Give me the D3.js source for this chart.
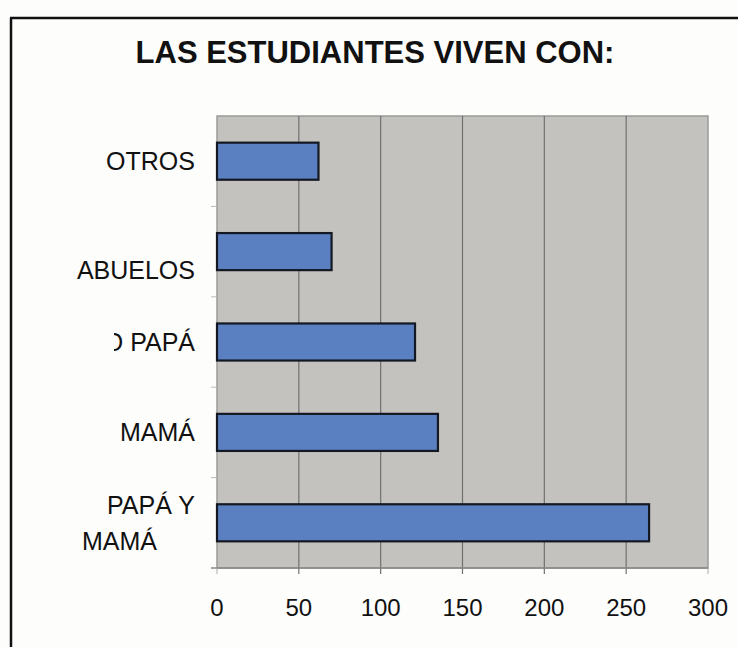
<!DOCTYPE html>
<html>
<head>
<meta charset="utf-8">
<script src="https://cdn.jsdelivr.net/npm/d3@7"></script>
<style>
  body { margin: 0; background: #fdfdfc; }
  svg { display: block; font-family: "Liberation Sans", Arial, sans-serif; }
</style>
</head>
<body>
<svg id="chart" width="738" height="647"></svg>
<script>
// data
var categories = ['OTROS', 'ABUELOS', 'SOLO PAPÁ', 'MAMÁ', 'PAPÁ Y MAMÁ'];
var values = [62, 70, 121, 135, 264];
// label lines as they wrap in the original (ABUELOS carries an empty first line)
var labelLines = [['OTROS'], ['', 'ABUELOS'], ['SOLO PAPÁ'], ['MAMÁ'], ['PAPÁ Y', 'MAMÁ']];
var xTicks = [0, 50, 100, 150, 200, 250, 300];
var title = 'LAS ESTUDIANTES VIVEN CON:';
// this label is cut off on its left side in the original
var clippedLabel = 'SOLO PAPÁ';

var svg = d3.select('#chart');
var plot = {left: 217, right: 708, top: 116, bottom: 568};

var x = d3.scaleLinear().domain([0, 300]).range([plot.left, plot.right]);
var y = d3.scaleBand().domain(categories)
    .range([plot.top, plot.bottom])
    .paddingInner(0.59).paddingOuter(0.295);

// outer frame (top and left edges of the scanned box)
svg.append('line').attr('x1', 10).attr('x2', 738).attr('y1', 18).attr('y2', 18)
  .attr('stroke', '#111').attr('stroke-width', 2.5);
svg.append('line').attr('x1', 11).attr('x2', 11).attr('y1', 18).attr('y2', 647)
  .attr('stroke', '#111').attr('stroke-width', 2.5);

// title
svg.append('text')
  .attr('x', 375).attr('y', 63)
  .attr('text-anchor', 'middle')
  .attr('font-weight', 'bold')
  .attr('font-size', 31)
  .attr('fill', '#111')
  .text(title);

// plot area
svg.append('rect')
  .attr('x', plot.left).attr('y', plot.top)
  .attr('width', plot.right - plot.left).attr('height', plot.bottom - plot.top)
  .attr('fill', '#c3c2be')
  .attr('stroke', '#9a9a98').attr('stroke-width', 1.5);

// vertical gridlines, running a little below the plot as ticks
svg.append('g').selectAll('line')
  .data(xTicks.slice(1, -1))
  .enter().append('line')
  .attr('x1', d => x(d)).attr('x2', d => x(d))
  .attr('y1', plot.top).attr('y2', plot.bottom + 6)
  .attr('stroke', '#707070').attr('stroke-width', 1.2);

// x axis line and end ticks
svg.append('line')
  .attr('x1', plot.left - 6).attr('x2', plot.right)
  .attr('y1', plot.bottom).attr('y2', plot.bottom)
  .attr('stroke', '#888').attr('stroke-width', 1.5);
svg.append('g').selectAll('line')
  .data([xTicks[0], xTicks[xTicks.length - 1]])
  .enter().append('line')
  .attr('x1', d => x(d)).attr('x2', d => x(d))
  .attr('y1', plot.bottom).attr('y2', plot.bottom + 6)
  .attr('stroke', '#aaa');

// category boundary ticks on the left
var step = y.step();
svg.append('g').selectAll('line')
  .data(categories.slice(1))
  .enter().append('line')
  .attr('x1', plot.left - 6).attr('x2', plot.left)
  .attr('y1', d => y(d) - y.paddingInner() * step / 2)
  .attr('y2', d => y(d) - y.paddingInner() * step / 2)
  .attr('stroke', '#bbb');

// tick labels
svg.append('g').selectAll('text')
  .data(xTicks)
  .enter().append('text')
  .attr('x', d => x(d)).attr('y', 616)
  .attr('text-anchor', 'middle')
  .attr('font-size', 24)
  .attr('fill', '#111')
  .text(d => d);

// bars
svg.append('g').selectAll('rect')
  .data(categories)
  .enter().append('rect')
  .attr('x', x(0))
  .attr('y', d => y(d))
  .attr('width', (d, i) => x(values[i]) - x(0))
  .attr('height', y.bandwidth())
  .attr('fill', '#5b80c2')
  .attr('stroke', '#141822').attr('stroke-width', 2.2);

// category labels
svg.append('clipPath').attr('id', 'labelClip')
  .append('rect').attr('x', 114).attr('y', 0).attr('width', 110).attr('height', 647);

var lineH = 36;
var labels = svg.append('g')
  .selectAll('text')
  .data(categories)
  .enter().append('text')
  .attr('text-anchor', 'end')
  .attr('font-size', 25)
  .attr('fill', '#111')
  .attr('clip-path', d => d === clippedLabel ? 'url(#labelClip)' : null);
labels.each(function(d, i) {
  var lines = labelLines[i];
  var cy = y(d) + y.bandwidth() / 2;
  var first = cy - (lines.length - 1) * lineH / 2;
  d3.select(this).selectAll('tspan')
    .data(lines)
    .enter().append('tspan')
    // wrapped second lines sit further left in the scan
    .attr('x', (t, j) => j > 0 && lines[0] ? 157 : 195)
    .attr('y', (t, j) => first + j * lineH + 9)
    .text(t => t);
});
</script>
</body>
</html>
